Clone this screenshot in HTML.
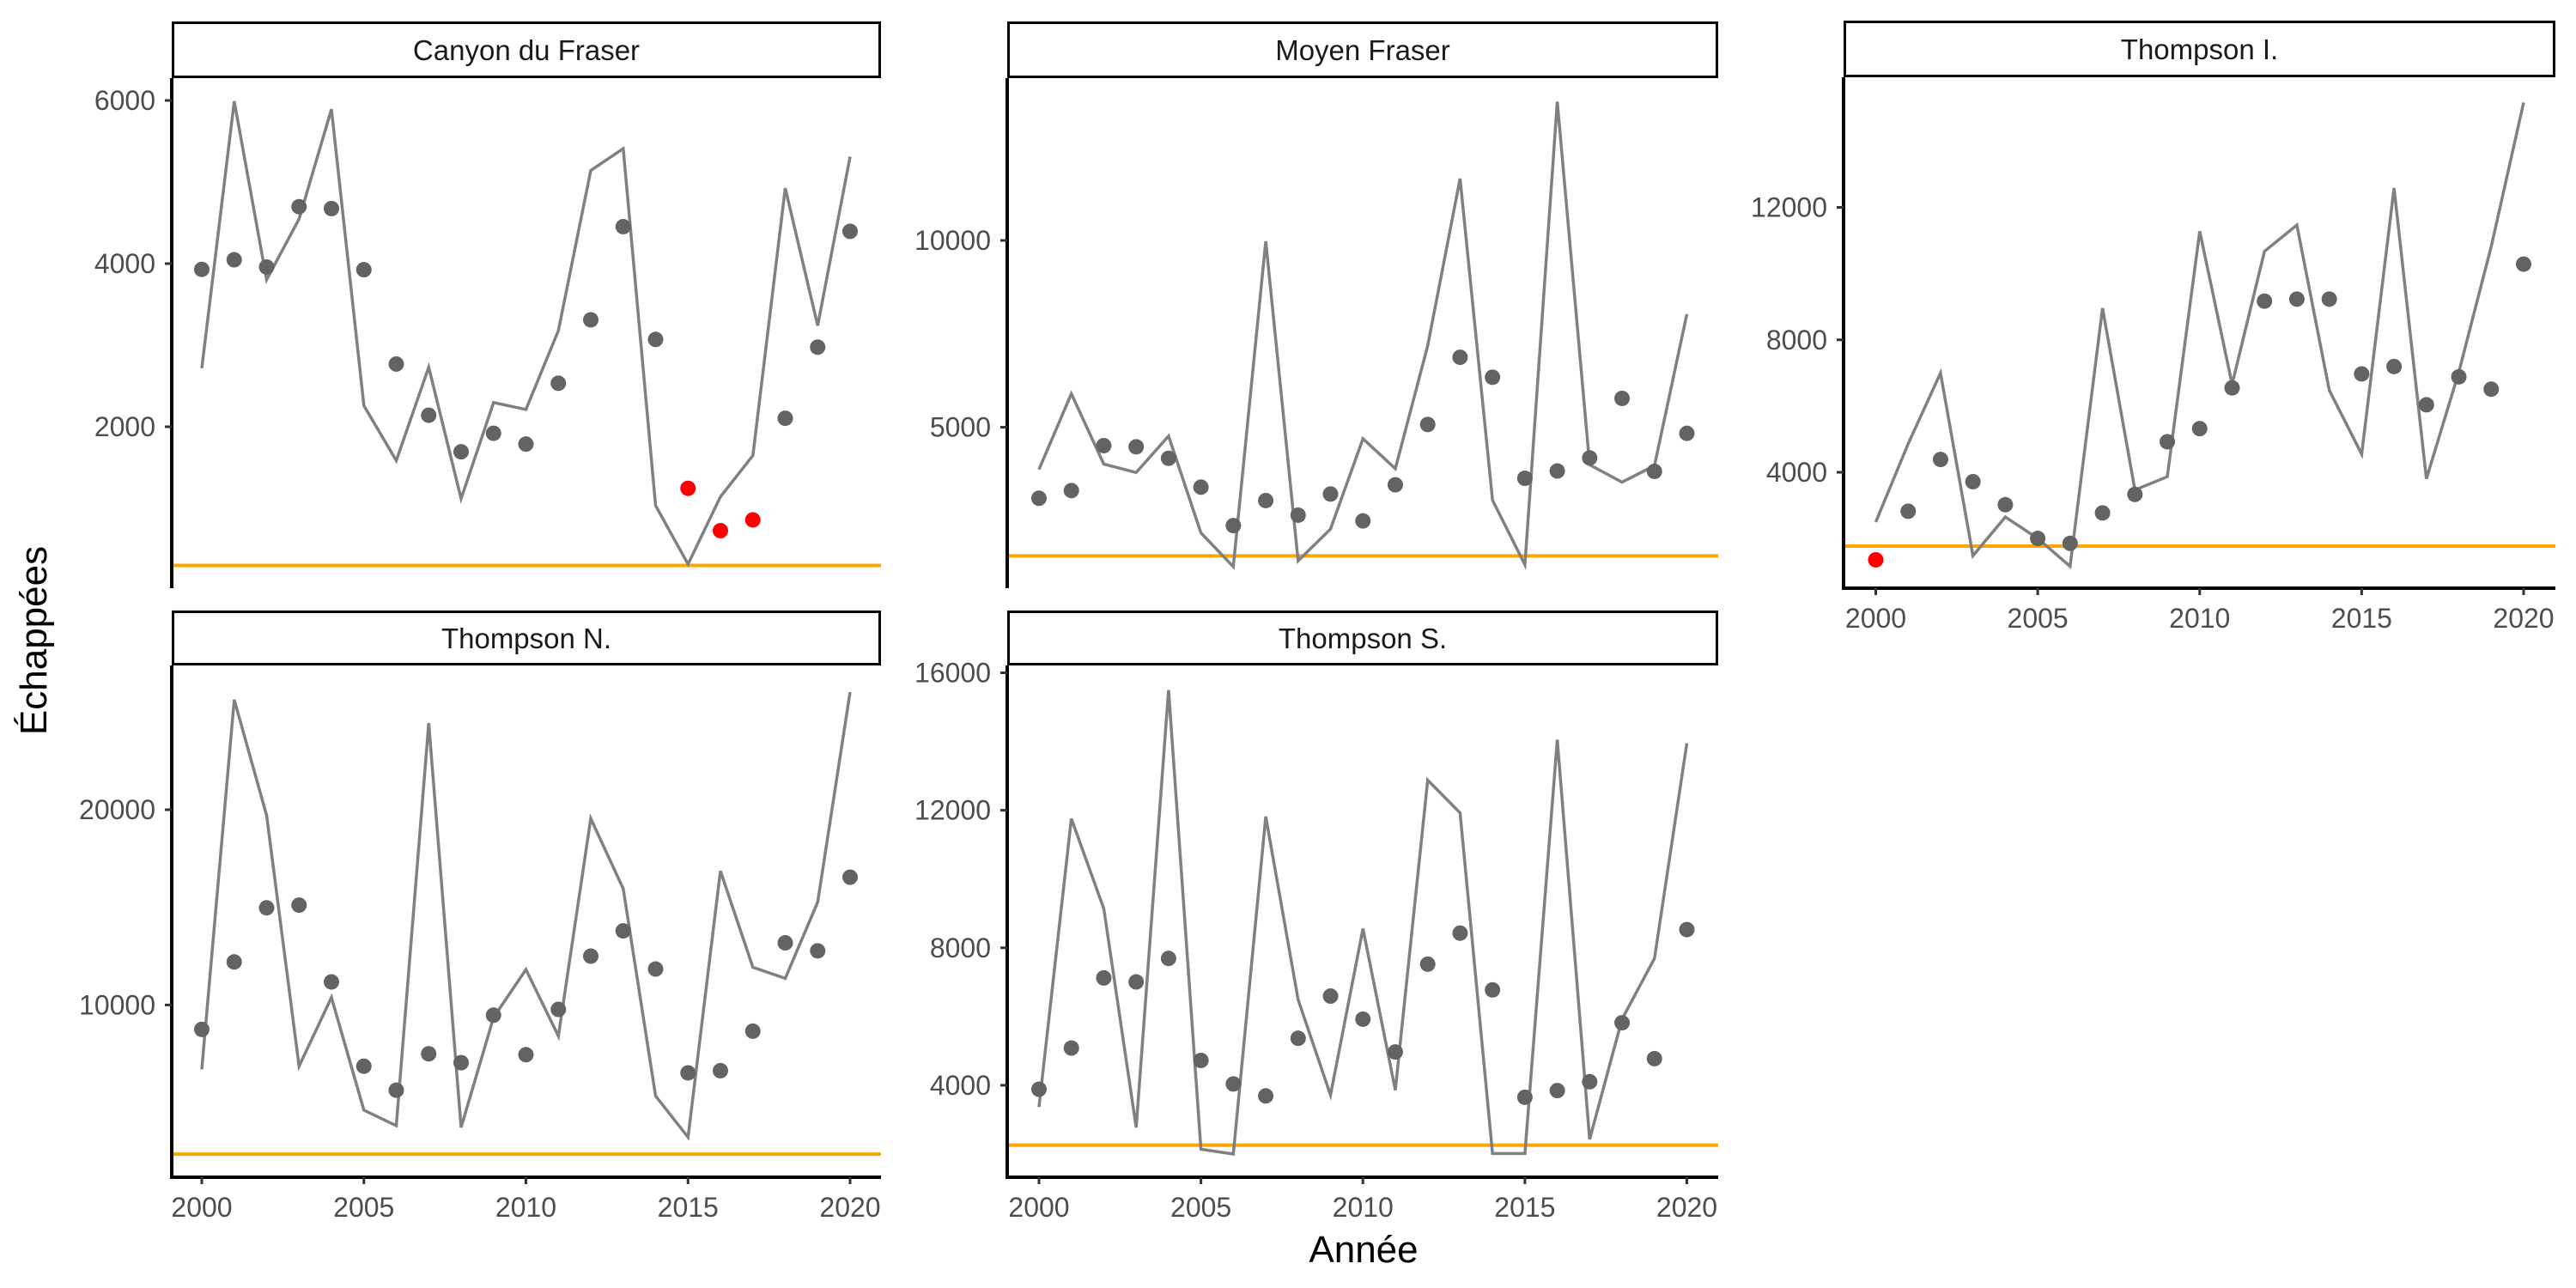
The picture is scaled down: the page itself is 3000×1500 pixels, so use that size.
<!DOCTYPE html>
<html><head><meta charset="utf-8"><style>
html,body{margin:0;padding:0;background:#fff;}
svg{display:block;font-family:"Liberation Sans",Arial,sans-serif;}
</style></head><body>
<svg id="chart" width="3000" height="1500" viewBox="0 0 3000 1500" xmlns="http://www.w3.org/2000/svg">
<text x="1588" y="1470" font-size="44" text-anchor="middle" fill="#000">Année</text>
<text x="0" y="0" font-size="44" text-anchor="middle" fill="#000" transform="translate(54,746) rotate(-90)">Échappées</text>
</svg>
<script>
const years = [2000,2001,2002,2003,2004,2005,2006,2007,2008,2009,2010,2011,2012,2013,2014,2015,2016,2017,2018,2019,2020];
const canyonPoints = [3929,4047,3958,4698,4675,3925,2769,2141,1693,1920,1788,2533,3311,4453,3071,1245,726,858,2104,2976,4396];
const canyonLine = [2717,5990,3802,4547,5892,2259,1585,2731,1118,2297,2212,3179,5142,5410,1033,316,1142,1646,4925,3240,5311];
const canyonRed = [false,false,false,false,false,false,false,false,false,false,false,false,false,false,false,true,true,true,false,false,false];
const moyenPoints = [3097,3303,4506,4475,4167,3395,2366,3035,2644,3210,2490,3457,5072,6872,6337,3632,3827,4177,5771,3817,4835];
const moyenLine = [3868,5895,4012,3786,4763,2171,1266,9979,1420,2274,4691,3889,7181,11656,3045,1317,13714,3992,3529,3971,8025];
const thompsonIPoints = [1356,2822,4386,3716,3020,2002,1853,2772,3331,4921,5318,6548,9168,9230,9230,6970,7193,6038,6883,6510,10286];
const thompsonILine = [2499,4858,6995,1480,2648,2002,1157,8957,3467,3865,11280,6659,10671,11466,6473,4548,12584,3803,7032,10820,15167];
const thompsonIRed = [true,false,false,false,false,false,false,false,false,false,false,false,false,false,false,false,false,false,false,false,false];
const thompsonNPoints = [8750,12205,14977,15114,11182,6864,5636,7500,7045,9477,7455,9773,12500,13795,11841,6523,6636,8659,13182,12773,16545];
const thompsonNLine = [6705,25636,19705,6864,10386,4614,3818,24432,3727,9364,11818,8409,19545,15955,5341,3227,16864,11932,11364,15273,26023];
const thompsonSPoints = [3884,5084,7123,7007,7690,4723,4039,3690,5368,6594,5923,4968,7523,8426,6774,3652,3845,4103,5819,4774,8529];
const thompsonSLine = [3368,11755,9136,2774,15497,2142,2000,11819,6490,3716,8555,3858,12877,11923,2013,2013,14052,2426,5923,7690,13948];
const refLevels = [300,1554,1769,2360,2258];
const panelTitles = ["Canyon du Fraser","Moyen Fraser","Thompson I.","Thompson N.","Thompson S."];
const yTicks1 = [2000,4000,6000];
const yTicks2 = [5000,10000];
const yTicks3 = [4000,8000,12000];
const yTicks4 = [10000,20000];
const yTicks5 = [4000,8000,12000,16000];
const xTicks = [2000,2005,2010,2015,2020];

const NS = "http://www.w3.org/2000/svg";
const svg = document.getElementById('chart');
function mk(tag, attrs, parent){
  const e = document.createElementNS(NS, tag);
  for (const k in attrs) e.setAttribute(k, attrs[k]);
  (parent||svg).appendChild(e); return e;
}
const panels = [
  {title:0, pts:canyonPoints, line:canyonLine, red:canyonRed, ref:0, ticks:yTicks1, x0:200, x1:1026, sTop:25, pTop:91, pBot:685, vTop:6000, yTop:117, vB:2000, yB:497, xa:235, xb:990, xaxis:false, slug:'canyon-du-fraser'},
  {title:1, pts:moyenPoints, line:moyenLine, red:null, ref:1, ticks:yTicks2, x0:1173, x1:2001, sTop:25, pTop:91, pBot:685, vTop:10000, yTop:280, vB:5000, yB:497.5, xa:1210, xb:1964.5, xaxis:false, slug:'moyen-fraser'},
  {title:2, pts:thompsonIPoints, line:thompsonILine, red:thompsonIRed, ref:2, ticks:yTicks3, x0:2147, x1:2976, sTop:24, pTop:90, pBot:685, vTop:12000, yTop:241.5, vB:4000, yB:550, xa:2184.5, xb:2939, xaxis:true, slug:'thompson-i'},
  {title:3, pts:thompsonNPoints, line:thompsonNLine, red:null, ref:3, ticks:yTicks4, x0:200, x1:1026, sTop:711, pTop:775, pBot:1371, vTop:20000, yTop:943, vB:10000, yB:1170.4, xa:235, xb:990, xaxis:true, slug:'thompson-n'},
  {title:4, pts:thompsonSPoints, line:thompsonSLine, red:null, ref:4, ticks:yTicks5, x0:1173, x1:2001, sTop:711, pTop:775, pBot:1371, vTop:16000, yTop:783.5, vB:4000, yB:1263.9, xa:1210, xb:1964.5, xaxis:true, slug:'thompson-s'}
];
panels.forEach(p => {
  const yS = v => p.yB + (v - p.vB) * (p.yTop - p.yB) / (p.vTop - p.vB);
  const xS = yr => p.xa + (yr - years[0]) * (p.xb - p.xa) / (years[years.length-1] - years[0]);
  const g = mk('g', {});
  
  
  const strip = mk('rect', {x:p.x0+1.5, y:p.sTop+1.5, width:p.x1-p.x0-3, height:p.pTop-p.sTop-3, fill:'#fff', stroke:'#000', 'stroke-width':3}, g);
  
  
  const st = mk('text', {x:(p.x0+p.x1)/2, y:(p.sTop+p.pTop)/2+12, 'font-size':33, 'text-anchor':'middle', fill:'#1a1a1a'}, g);
  st.textContent = panelTitles[p.title];
  
  
  const rl = mk('line', {x1:p.x0, x2:p.x1, y1:yS(refLevels[p.ref]), y2:yS(refLevels[p.ref]), stroke:'#FFA500', 'stroke-width':4}, g);
  
  
  const d = p.line.map((v,i) => (i?'L':'M') + xS(years[i]).toFixed(1) + ',' + yS(v).toFixed(1)).join(' ');
  const pl = mk('path', {d:d, fill:'none', stroke:'#808080', 'stroke-width':3.5, 'stroke-linejoin':'miter'}, g);
  
  
  p.pts.forEach((v,i) => {
    const red = p.red && p.red[i];
    const c = mk('circle', {cx:xS(years[i]), cy:yS(v), r:9, fill: red ? '#FF0000' : '#636363'}, g);
    
    
  });
  const ya = mk('line', {x1:p.x0, x2:p.x0, y1:p.pTop, y2:p.pBot, stroke:'#000', 'stroke-width':4}, g);
  
  
  p.ticks.forEach(t => {
    const y = yS(t);
    mk('line', {x1:p.x0-8, x2:p.x0, y1:y, y2:y, stroke:'#333', 'stroke-width':3}, g);
    const tl = mk('text', {x:p.x0-19, y:y+11, 'font-size':32, 'text-anchor':'end', fill:'#4d4d4d'}, g);
    tl.textContent = t;
    
    
  });
  if (p.xaxis) {
    const xa = mk('line', {x1:p.x0-2, x2:p.x1, y1:p.pBot, y2:p.pBot, stroke:'#000', 'stroke-width':4}, g);
    
    
    xTicks.forEach(t => {
      const x = xS(t);
      mk('line', {x1:x, x2:x, y1:p.pBot, y2:p.pBot+8, stroke:'#333', 'stroke-width':3}, g);
      const tl = mk('text', {x:x, y:p.pBot+46, 'font-size':32, 'text-anchor':'middle', fill:'#4d4d4d'}, g);
      tl.textContent = t;
      
      
    });
  }
});
</script>
</body></html>
